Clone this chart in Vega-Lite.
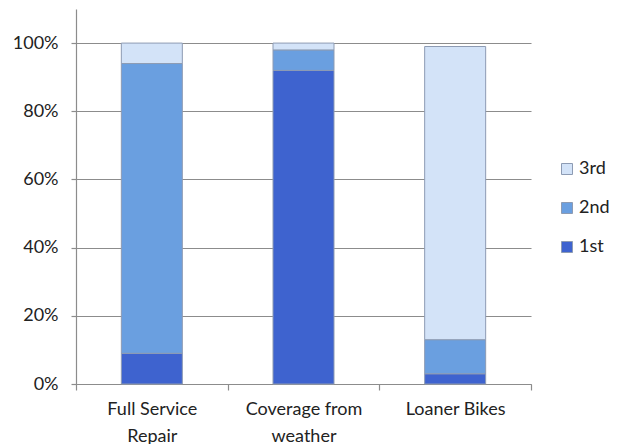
{
  "$schema": "https://vega.github.io/schema/vega-lite/v6.json",
  "width": 455,
  "height": 375,
  "autosize": {"type": "none"},
  "padding": {"left": 76, "top": 9, "right": 90, "bottom": 60},
  "background": "white",
  "config": {
    "view": {"stroke": null},
    "font": "Lato",
    "axis": {"labelFont": "Lato", "labelFontSize": 18, "labelColor": "#222", "domainColor": "#8c8c8c", "tickColor": "#8c8c8c", "gridColor": "#8c8c8c", "domainWidth": 1.2, "gridWidth": 1.2, "tickWidth": 1.2}
  },
  "data": {
    "values": [
      {"category": "Full Service Repair", "series": "1st", "value": 0.09},
      {"category": "Full Service Repair", "series": "2nd", "value": 0.85},
      {"category": "Full Service Repair", "series": "3rd", "value": 0.06},
      {"category": "Coverage from weather", "series": "1st", "value": 0.92},
      {"category": "Coverage from weather", "series": "2nd", "value": 0.06},
      {"category": "Coverage from weather", "series": "3rd", "value": 0.02},
      {"category": "Loaner Bikes", "series": "1st", "value": 0.03},
      {"category": "Loaner Bikes", "series": "2nd", "value": 0.10},
      {"category": "Loaner Bikes", "series": "3rd", "value": 0.86}
    ]
  },
  "mark": {"type": "bar", "size": 61, "stroke": "#8d9bb3", "strokeWidth": 1},
  "encoding": {
    "x": {
      "field": "category",
      "type": "nominal",
      "sort": ["Full Service Repair", "Coverage from weather", "Loaner Bikes"],
      "scale": {"paddingInner": 0, "paddingOuter": 0},
      "axis": {
        "title": null,
        "labelAngle": 0,
        "tickBand": "extent",
        "tickSize": 6,
        "labelPadding": 10,
        "labelLineHeight": 27,
        "labelBaseline": "top",
        "labelExpr": "datum.label == 'Full Service Repair' ? ['Full Service', 'Repair'] : datum.label == 'Coverage from weather' ? ['Coverage from', 'weather'] : datum.label"
      }
    },
    "y": {
      "field": "value",
      "type": "quantitative",
      "stack": "zero",
      "scale": {"domain": [0, 1.1], "nice": false},
      "axis": {
        "title": null,
        "values": [0, 0.2, 0.4, 0.6, 0.8, 1.0],
        "format": ".0%",
        "tickSize": 5,
        "labelPadding": 13,
        "grid": true
      }
    },
    "color": {
      "field": "series",
      "type": "nominal",
      "scale": {"domain": ["3rd", "2nd", "1st"], "range": ["#d3e3f8", "#6a9fe0", "#3e63cf"]},
      "legend": {
        "title": null,
        "orient": "none",
        "legendX": 482,
        "legendY": 151,
        "symbolType": "square",
        "symbolSize": 121,
        "symbolStrokeColor": "#8d9bb3",
        "symbolStrokeWidth": 1,
        "labelFont": "Lato",
        "labelFontSize": 18,
        "labelColor": "#222",
        "rowPadding": 21,
        "labelOffset": 3
      }
    },
    "order": {"field": "series", "sort": "ascending"}
  }
}
